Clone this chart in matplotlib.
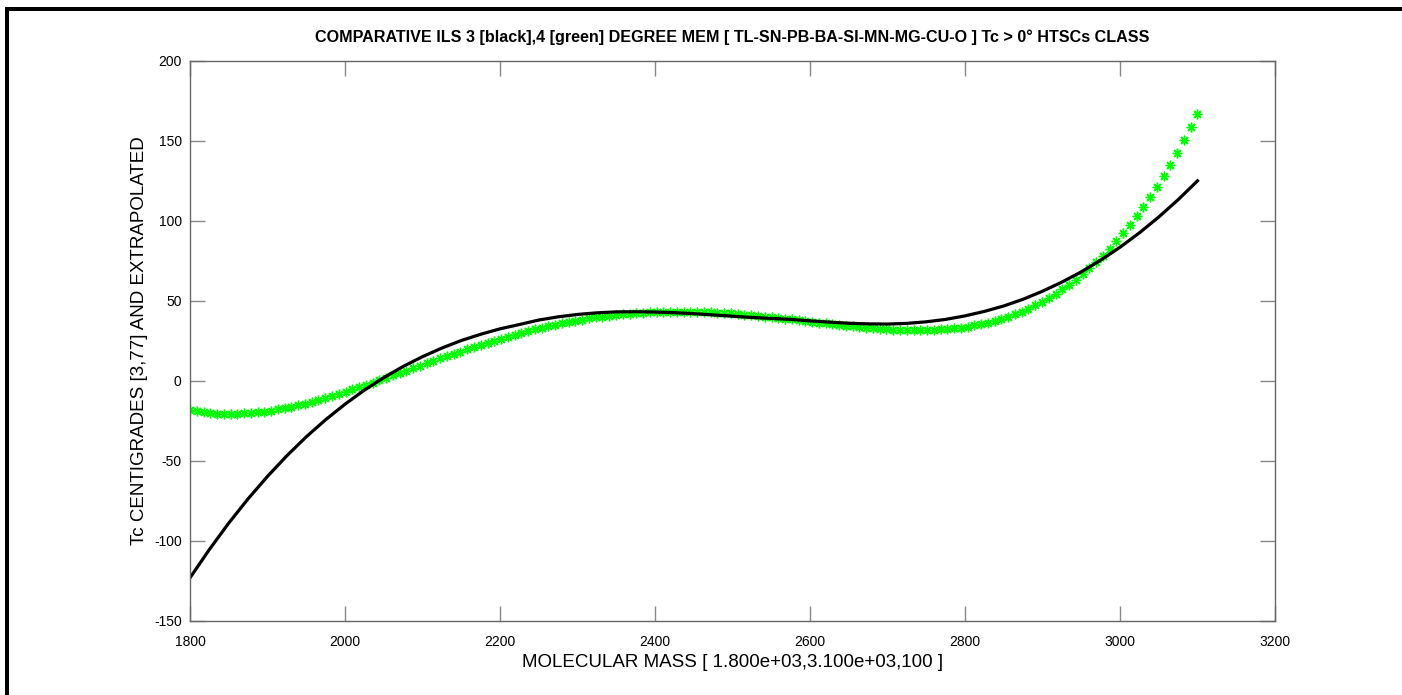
import matplotlib
matplotlib.use('Agg')
import matplotlib.pyplot as plt
from matplotlib.patches import Rectangle
import numpy as np

plt.rcParams['font.family'] = ['Liberation Sans', 'DejaVu Sans']
plt.rcParams['axes.unicode_minus'] = False

# 4th degree fit, sampled 150 times over the mass range (green asterisks)
mass_green = np.linspace(1800, 3100, 150)
tc_green = [-18.1, -18.9, -19.5, -20.0, -20.4, -20.5, -20.6, -20.5, -20.3, -20.0,
            -19.6, -19.1, -18.5, -17.7, -16.9, -16.1, -15.1, -14.1, -13.0, -11.8,
            -10.6, -9.4, -8.0, -6.7, -5.3, -3.9, -2.5, -1.0, 0.5, 2.0,
            3.5, 5.0, 6.5, 8.0, 9.6, 11.1, 12.6, 14.1, 15.6, 17.0,
            18.4, 19.9, 21.3, 22.6, 23.9, 25.2, 26.5, 27.7, 28.9, 30.1,
            31.2, 32.2, 33.3, 34.2, 35.2, 36.0, 36.9, 37.7, 38.4, 39.1,
            39.7, 40.3, 40.8, 41.3, 41.7, 42.1, 42.4, 42.7, 42.9, 43.1,
            43.3, 43.3, 43.4, 43.4, 43.3, 43.2, 43.1, 42.9, 42.7, 42.5,
            42.2, 41.9, 41.5, 41.2, 40.8, 40.3, 39.9, 39.4, 39.0, 38.5,
            38.0, 37.5, 37.0, 36.5, 36.0, 35.5, 35.0, 34.6, 34.1, 33.7,
            33.3, 32.9, 32.6, 32.3, 32.1, 31.9, 31.8, 31.7, 31.7, 31.8,
            31.9, 32.2, 32.5, 32.9, 33.4, 34.0, 34.7, 35.6, 36.5, 37.6,
            38.9, 40.2, 41.7, 43.4, 45.3, 47.3, 49.5, 51.8, 54.4, 57.2,
            60.1, 63.3, 66.7, 70.4, 74.3, 78.4, 82.8, 87.4, 92.3, 97.5,
            103.0, 108.8, 114.9, 121.3, 128.1, 135.2, 142.6, 150.4, 158.5, 167.0]

# 3rd degree fit (black line), read every 25 units
mass_black = np.arange(1800, 3101, 25)
tc_black = [-123.0, -105.3, -88.8, -73.6, -59.6, -46.7, -34.9, -24.2, -14.5, -5.7,
            2.1, 9.1, 15.2, 20.6, 25.3, 29.2, 32.6, 35.3, 38.1, 40.1,
            41.6, 42.6, 43.2, 43.3, 43.1, 42.7, 42.1, 41.3, 40.5, 39.7,
            39.1, 38.5, 37.6, 36.8, 36.1, 35.7, 35.6, 36.0, 37.0, 38.5,
            40.7, 43.5, 46.9, 51.1, 56.1, 61.8, 68.2, 75.5, 83.6, 92.6,
            102.5, 113.3, 125.1]

xticks = [1800, 2000, 2200, 2400, 2600, 2800, 3000, 3200]
yticks = [-150, -100, -50, 0, 50, 100, 150, 200]

title = 'COMPARATIVE ILS 3 [black],4 [green] DEGREE MEM [ TL-SN-PB-BA-SI-MN-MG-CU-O ] Tc > 0° HTSCs CLASS'
xlab = 'MOLECULAR MASS [ 1.800e+03,3.100e+03,100 ]'
ylab = 'Tc CENTIGRADES [3,77] AND EXTRAPOLATED'

fig = plt.figure(figsize=(14.02, 6.95), dpi=100)
ax = fig.add_axes([190/1402, 74/695, 1085/1402, 560/695])

ax.plot(mass_green, tc_green, ls='none', marker=(8, 2, 0), ms=7,
        mec='#00ff00', mfc='#00ff00', mew=1.0)
ax.plot(mass_black, tc_black, color='black', lw=2.3)

ax.set_xlim(1800, 3200)
ax.set_ylim(-150, 200)
ax.set_xticks(xticks)
ax.set_yticks(yticks)
ax.tick_params(direction='in', length=11, width=1, color='#888888', top=True, right=True,
               labelsize=10)
ax.tick_params(axis='x', pad=10)
ax.tick_params(axis='y', pad=6)
for s in ax.spines.values():
    s.set_color('#666666')
    s.set_linewidth(1)

ax.set_title(title, fontsize=11.6, fontweight='bold', pad=14)
ax.set_xlabel(xlab, fontsize=13.5, labelpad=4)
ax.set_ylabel(ylab, fontsize=13.5, labelpad=4)

# black frame pieces (left and top edges)
fig.add_artist(Rectangle((5/1402, 0), 4/1402, 688/695, transform=fig.transFigure,
                         color='black', lw=0))
fig.add_artist(Rectangle((5/1402, 684/695), 1, 4/695, transform=fig.transFigure,
                         color='black', lw=0))

fig.savefig('out.png', dpi=100)
